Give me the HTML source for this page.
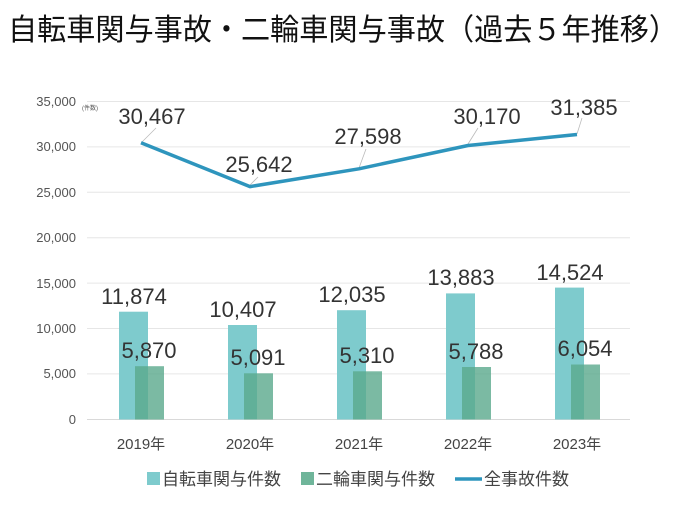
<!DOCTYPE html>
<html><head><meta charset="utf-8"><style>
body{margin:0;background:#fff;width:690px;height:501px;overflow:hidden;font-family:"Liberation Sans","Noto Sans CJK JP",sans-serif}
</style></head><body>
<svg width="690" height="501" xmlns="http://www.w3.org/2000/svg" font-family="Liberation Sans, Noto Sans CJK JP, sans-serif">
<text x="8" y="40" font-size="30" fill="#111" textLength="670" lengthAdjust="spacingAndGlyphs">自転車関与事故・二輪車関与事故（過去５年推移）</text>
<g stroke="#e6e6e6" stroke-width="1">
<line x1="87" x2="630" y1="101.5" y2="101.5"/><line x1="87" x2="630" y1="146.9" y2="146.9"/>
<line x1="87" x2="630" y1="192.3" y2="192.3"/><line x1="87" x2="630" y1="237.7" y2="237.7"/>
<line x1="87" x2="630" y1="283.1" y2="283.1"/><line x1="87" x2="630" y1="328.5" y2="328.5"/>
<line x1="87" x2="630" y1="373.9" y2="373.9"/>
</g>
<line x1="87" x2="630" y1="419.5" y2="419.5" stroke="#d9d9d9"/>
<g font-size="13" fill="#555" text-anchor="end">
<text x="76" y="106">35,000</text><text x="76" y="151">30,000</text><text x="76" y="197">25,000</text>
<text x="76" y="242">20,000</text><text x="76" y="288">15,000</text><text x="76" y="333">10,000</text>
<text x="76" y="378">5,000</text><text x="76" y="424">0</text>
</g>
<text x="82" y="110" font-size="6" fill="#555">(件数)</text>
<g fill="#7ecbcd">
<rect x="119" y="311.7" width="29" height="107.8"/><rect x="228" y="325" width="29" height="94.5"/>
<rect x="337" y="310.2" width="29" height="109.3"/><rect x="446" y="293.4" width="29" height="126.1"/>
<rect x="555" y="287.6" width="29" height="131.9"/>
</g>
<g fill="#5aa98c" fill-opacity="0.8">
<rect x="135" y="366.2" width="29" height="53.3"/><rect x="244" y="373.3" width="29" height="46.2"/>
<rect x="353" y="371.3" width="29" height="48.2"/><rect x="462" y="367" width="29" height="52.5"/>
<rect x="571" y="364.5" width="29" height="55"/>
</g>
<g font-size="22" fill="#333" text-anchor="middle">
<text x="134" y="304">11,874</text><text x="243" y="317">10,407</text><text x="352" y="302">12,035</text>
<text x="461" y="285">13,883</text><text x="570" y="280">14,524</text>
<text x="149" y="358">5,870</text><text x="258" y="365">5,091</text><text x="367" y="363">5,310</text>
<text x="476" y="359">5,788</text><text x="585" y="356">6,054</text>
</g>
<g stroke="#bbb" stroke-width="0.8">
<line x1="142" y1="142" x2="156" y2="128"/><line x1="250" y1="185" x2="258" y2="177"/>
<line x1="359" y1="168" x2="366" y2="149"/><line x1="468" y1="144" x2="478" y2="128"/>
<line x1="577" y1="134" x2="582" y2="118"/>
</g>
<polyline points="141,142.8 250,186.6 359,168.8 468,145.5 577,134.5" fill="none" stroke="#2e95bd" stroke-width="3.5" stroke-linejoin="round"/>
<g font-size="22" fill="#333" text-anchor="middle">
<text x="152" y="124">30,467</text><text x="259" y="172">25,642</text><text x="368" y="144">27,598</text>
<text x="487" y="124">30,170</text><text x="584" y="115">31,385</text>
</g>
<g font-size="15" fill="#444" text-anchor="middle">
<text x="141" y="449">2019年</text><text x="250" y="449">2020年</text><text x="359" y="449">2021年</text>
<text x="468" y="449">2022年</text><text x="577" y="449">2023年</text>
</g>
<rect x="147" y="472" width="13" height="13" fill="#7ecbcd"/>
<text x="162" y="485" font-size="17" fill="#444">自転車関与件数</text>
<rect x="301" y="472" width="13" height="13" fill="#6fb59a"/>
<text x="316" y="485" font-size="17" fill="#444">二輪車関与件数</text>
<line x1="455" x2="482" y1="479" y2="479" stroke="#2e95bd" stroke-width="3.5"/>
<text x="484" y="485" font-size="17" fill="#444">全事故件数</text>
</svg>
</body></html>
